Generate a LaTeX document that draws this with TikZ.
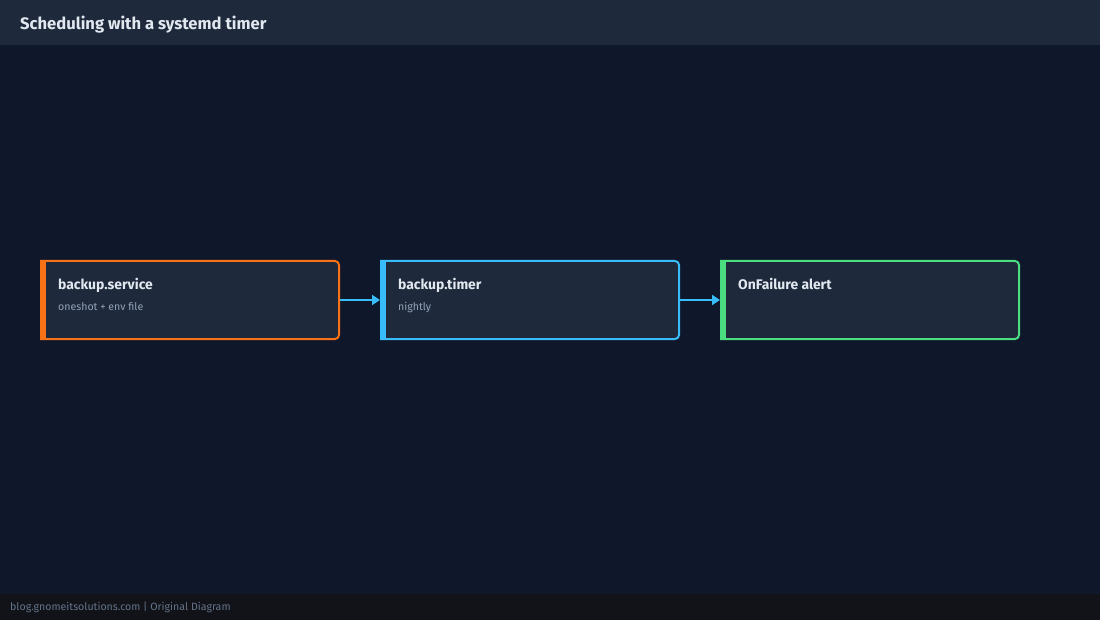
\documentclass[tikz,border=0pt]{standalone}
\usepackage{fontspec}
\setmainfont{Fira Sans}
\usetikzlibrary{arrows.meta}
\definecolor{bg}{HTML}{0F172A}
\definecolor{hdr}{HTML}{1E293B}
\definecolor{boxf}{HTML}{1E293B}
\definecolor{ftr}{HTML}{111318}
\definecolor{cor}{HTML}{F97316}
\definecolor{cbl}{HTML}{38BDF8}
\definecolor{cgr}{HTML}{4ADE80}
\definecolor{ttl}{HTML}{E2E8F0}
\definecolor{sub}{HTML}{94A3B8}
\definecolor{ftx}{HTML}{64748B}
\begin{document}
\begin{tikzpicture}[x=1pt,y=-1pt,
  ttlt/.style={text=ttl,font=\bfseries\fontsize{13.9}{16}\selectfont,anchor=base west,inner sep=0pt},
  subt/.style={text=sub,font=\fontsize{10.6}{12}\selectfont,anchor=base west,inner sep=0pt},
  conn/.style={draw=cbl,line width=2pt,-{Triangle[length=8pt,width=10pt]}}]
\useasboundingbox (0,0) rectangle (1100,620);
\fill[bg] (0,0) rectangle (1100,620);
\fill[hdr] (0,0) rectangle (1100,45);
\fill[ftr] (0,594) rectangle (1100,620);
\node[anchor=base west,inner sep=0pt,text=ttl,font=\bfseries\fontsize{16.6}{19}\selectfont] (title) at (20,30) {Scheduling with a systemd timer};
\node[anchor=base west,inner sep=0pt,text=ftx,font=\fontsize{10.6}{12}\selectfont] (foot) at (10,610) {blog.gnomeitsolutions.com | Original Diagram};
\foreach \x/\c/\n in {40/cor/a,380/cbl/b,720/cgr/c}{
  \draw[\c,line width=2pt,fill=boxf] (\x+1,261) -- (\x+294,261) [rounded corners=4pt] -- (\x+299,261) -- (\x+299,339) [sharp corners] -- (\x+294,339) -- (\x+1,339) -- cycle;
  \fill[\c] (\x,260) rectangle (\x+6,340);
  \coordinate (\n w) at (\x,300);
  \coordinate (\n e) at (\x+300,300);
}
\node[ttlt] (t1) at (58,290) {backup.service};
\node[subt] (s1) at (58,310) {oneshot + env file};
\node[ttlt] (t2) at (398,290) {backup.timer};
\node[subt] (s2) at (398,310) {nightly};
\node[ttlt] (t3) at (738,290) {OnFailure alert};
\draw[conn] (ae) -- (bw);
\draw[conn] (be) -- (cw);
\end{tikzpicture}
\end{document}
